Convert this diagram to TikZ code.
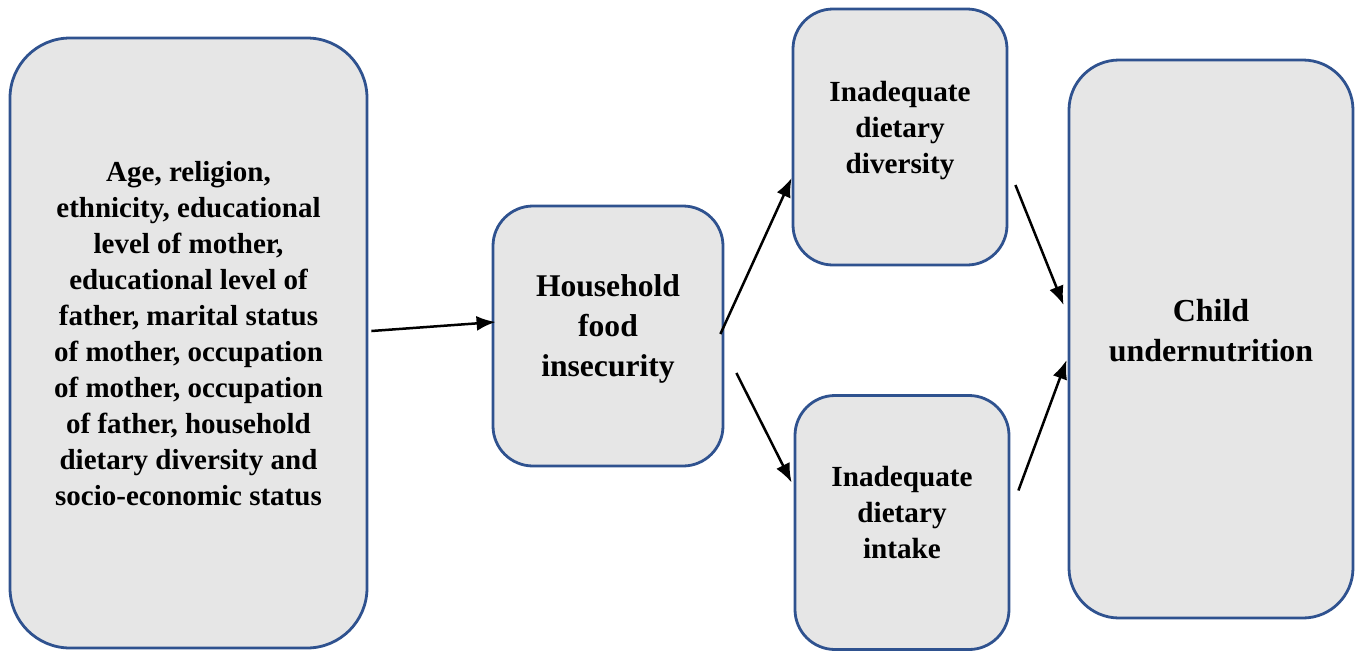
\documentclass[tikz,border=0pt]{standalone}
\usepackage{fontspec}
\setmainfont{Liberation Serif}
\usetikzlibrary{arrows.meta}
\definecolor{boxblue}{RGB}{47,82,143}
\definecolor{boxgray}{RGB}{230,230,230}
\tikzset{>={Latex[length=9.5pt,width=7.5pt]}}
\tikzstyle{box} = [draw=boxblue, fill=boxgray, line width=1.4pt, align=center, text depth=10pt, font=\bfseries]
\tikzstyle{link} = [->, line width=1.25pt, black]

\begin{document}
\begin{tikzpicture}[x=0.5pt, y=-0.5pt]
		% Frame
		\useasboundingbox (0,0) rectangle (1362,650);
		
		% Boxes
		\node[box, minimum width=178.5pt, minimum height=305pt, rounded corners=30pt, font=\bfseries\fontsize{14.5}{18}\selectfont] (factors) at (188.5,343)
		{Age, religion,\\ ethnicity, educational\\ level of mother,\\ educational level of\\ father, marital status\\ of mother, occupation\\ of mother, occupation\\ of father, household\\ dietary diversity and\\ socio-economic status};
		\node[box, minimum width=115pt, minimum height=130pt, rounded corners=20pt, font=\bfseries\fontsize{15.8}{20}\selectfont] (insecurity) at (608,336)
		{Household\\ food\\ insecurity};
		\node[box, minimum width=107pt, minimum height=128pt, rounded corners=20pt, font=\bfseries\fontsize{14.6}{18}\selectfont] (diversity) at (900,137)
		{Inadequate\\ dietary\\ diversity};
		\node[box, minimum width=107pt, minimum height=127pt, rounded corners=20pt, font=\bfseries\fontsize{14.6}{18}\selectfont] (intake) at (902,522.5)
		{Inadequate\\ dietary\\ intake};
		\node[box, minimum width=142pt, minimum height=279pt, rounded corners=25pt, text depth=9pt, font=\bfseries\fontsize{16}{20}\selectfont] (child) at (1211,339)
		{Child\\ undernutrition};
		
		% Arrows
		\draw[link] ([xshift=1.5pt, yshift=6pt]factors.east) -- ([xshift=2pt, yshift=7pt]insecurity.west);
		\draw[link] ([xshift=-2pt, yshift=1pt]insecurity.east) -- ([yshift=-20.5pt]diversity.west);
		\draw[link] ([xshift=6pt, yshift=-18.5pt]insecurity.east) -- ([xshift=-1pt, yshift=20pt]intake.west);
		\draw[link] ([xshift=3.5pt, yshift=-24pt]diversity.east) -- ([xshift=-2pt, yshift=17pt]child.west);
		\draw[link] ([xshift=4pt, yshift=16pt]intake.east) -- ([xshift=-0.5pt, yshift=-10.5pt]child.west);
	\end{tikzpicture}
\end{document}
